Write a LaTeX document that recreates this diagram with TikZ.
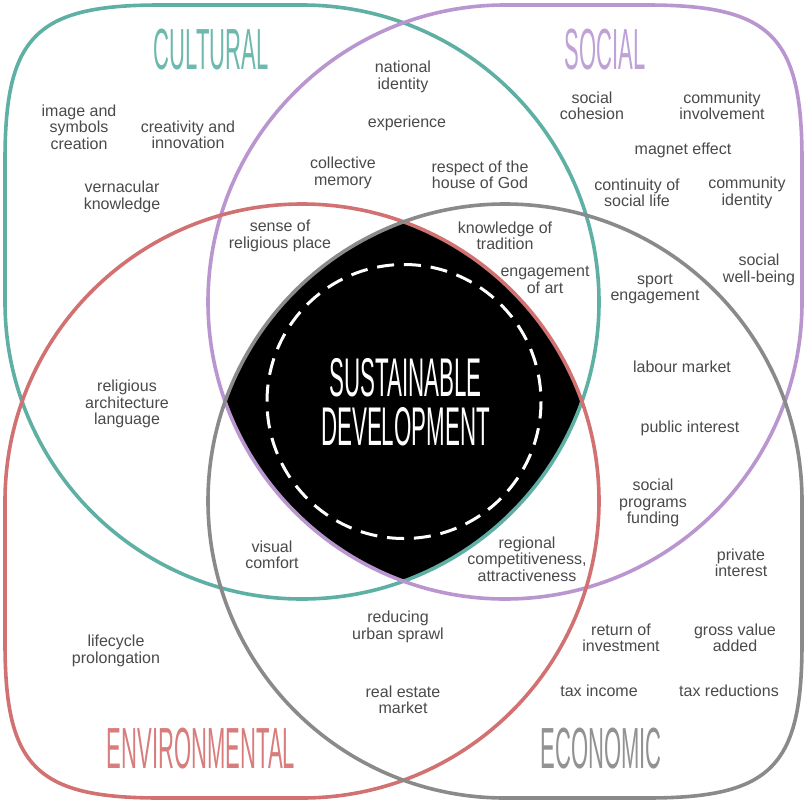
\documentclass[tikz,border=0pt]{standalone}
\usepackage{fontspec}
\setmainfont{Liberation Sans}
\usepackage{graphicx}
\definecolor{cteal}{HTML}{5EB0A4}
\definecolor{cpurp}{HTML}{B996CF}
\definecolor{cred}{HTML}{D27171}
\definecolor{cgrey}{HTML}{8A8A8A}
\definecolor{tteal}{HTML}{6DB9AE}
\definecolor{tpurp}{HTML}{BFA1D6}
\definecolor{tred}{HTML}{D87C7C}
\definecolor{tgrey}{HTML}{929292}
\definecolor{ctxt}{HTML}{4A4A4A}
\newcommand{\ttltext}[1]{\scalebox{0.38}[1]{\fontsize{58}{58}\selectfont #1}}
\newcommand{\sdtext}[1]{\scalebox{0.41}[1]{#1}}
\begin{document}
\begin{tikzpicture}[x=1pt,y=-1pt,
  blob/.style={line width=3.6pt, line join=round},
  lbl/.style={font=\fontsize{16}{16.5}\selectfont, text=ctxt, align=center, inner sep=0pt},
  ttl/.style={inner sep=0pt, anchor=base}]
\useasboundingbox (0,0) rectangle (808,803);
\fill[white] (0,0) rectangle (808,803);
% black centre: intersection of the four circles
\begin{scope}
\clip (302,302) circle[radius=297];
\clip (505,302) circle[radius=297];
\clip (302,501) circle[radius=297];
\fill[black] (505,501) circle[radius=297];
\end{scope}
\draw[white, line width=3pt, dash pattern=on 17pt off 9.9pt] (404,401.5) circle[radius=137];
% four domains
\draw[blob, cteal] (5,302) -- (5,160) .. controls (5,36) and (36,5) .. (160,5) -- (302,5) arc[start angle=-90, end angle=180, radius=297] -- cycle;
\draw[blob, cpurp] (505,5) -- (647,5) .. controls (771,5) and (802,36) .. (802,160) -- (802,302) arc[start angle=0, end angle=270, radius=297] -- cycle;
\draw[blob, cred] (302,798) -- (160,798) .. controls (36,798) and (5,767) .. (5,643) -- (5,501) arc[start angle=180, end angle=450, radius=297] -- cycle;
\draw[blob, cgrey] (802,501) -- (802,643) .. controls (802,767) and (771,798) .. (647,798) -- (505,798) arc[start angle=90, end angle=360, radius=297] -- cycle;
% titles
\node[ttl, text=tteal] (tcul) at (211,69) {\ttltext{CULTURAL}};
\node[ttl, text=tpurp] (tsoc) at (605,69) {\ttltext{SOCIAL}};
\node[ttl, text=tred] (tenv) at (201,768) {\ttltext{ENVIRONMENTAL}};
\node[ttl, text=tgrey] (teco) at (601,768) {\ttltext{ECONOMIC}};
\node[inner sep=0pt, text=white, align=center, font=\fontsize{54.5}{49}\selectfont] (sd) at (405.5,402.5) {\sdtext{SUSTAINABLE}\\\sdtext{DEVELOPMENT}};
% cultural
\node[lbl] (c1) at (79,127) {image and\\symbols\\creation};
\node[lbl] (c2) at (188,135) {creativity and\\innovation};
\node[lbl] (c3) at (122,197) {vernacular\\knowledge};
\node[lbl] (c4) at (403,77) {national\\identity};
\node[lbl] (c5) at (407,123) {experience};
\node[lbl] (c6) at (343,173) {collective\\memory};
\node[lbl] (c7) at (480,175) {respect of the\\house of God};
\node[lbl] (c8) at (280,236) {sense of\\religious place};
\node[lbl] (c9) at (505,236) {knowledge of\\tradition};
\node[lbl] (c10) at (545,280) {engagement\\of art};
\node[lbl] (c11) at (127,404) {religious\\architecture\\language};
% social
\node[lbl] (s1) at (592,106) {social\\cohesion};
\node[lbl] (s2) at (722,106) {community\\involvement};
\node[lbl] (s3) at (683,150) {magnet effect};
\node[lbl] (s4) at (637,193) {continuity of\\social life};
\node[lbl] (s5) at (747,193) {community\\identity};
\node[lbl] (s6) at (759,270) {social\\well-being};
\node[lbl] (s7) at (655,289) {sport\\engagement};
\node[lbl] (s8) at (682,367) {labour market};
\node[lbl] (s9) at (690,428) {public interest};
\node[lbl] (s10) at (653,503) {social\\programs\\funding};
% environmental / economic
\node[lbl] (e1) at (272,555) {visual\\comfort};
\node[lbl] (e2) at (527,559) {regional\\competitiveness,\\attractiveness};
\node[lbl] (e3) at (398,627) {reducing\\urban sprawl};
\node[lbl] (e4) at (403,700) {real estate\\market};
\node[lbl] (e5) at (116,651) {lifecycle\\prolongation};
\node[lbl] (k1) at (741,563) {private\\interest};
\node[lbl] (k2) at (621,638) {return of\\investment};
\node[lbl] (k3) at (735,638) {gross value\\added};
\node[lbl] (k4) at (599,691) {tax income};
\node[lbl] (k5) at (729,691) {tax reductions};
\end{tikzpicture}
\end{document}
